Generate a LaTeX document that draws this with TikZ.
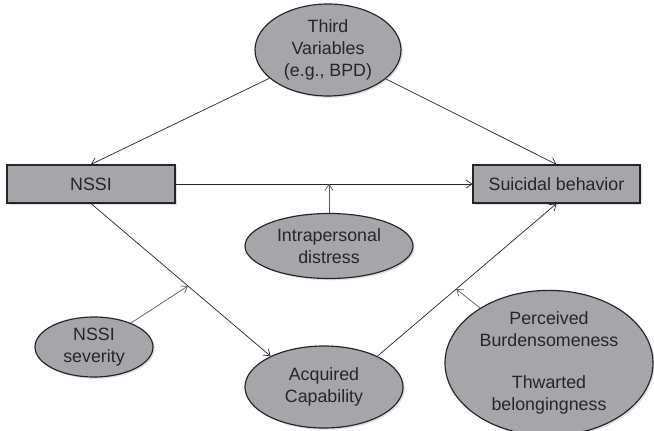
\documentclass[tikz,border=0pt]{standalone}
\usepackage{fontspec}
\setmainfont{Liberation Sans}
\usetikzlibrary{shapes,arrows.meta,positioning,shadows}

\definecolor{nodegray}{RGB}{166,166,170}
\definecolor{textgray}{RGB}{38,38,38}

\begin{document}
\begin{tikzpicture}[
    x=0.03cm,
    y=-0.03cm,
    font=\fontsize{15.2}{18.5}\selectfont,
    box/.style={
        rectangle,
        draw=black!85,
        fill=nodegray,
        line width=1pt,
        text=textgray,
        minimum height=1.14cm,
        minimum width=5.04cm,
        align=center,
        drop shadow={opacity=0.25, shadow xshift=1.5pt, shadow yshift=-1.5pt}
    },
    oval/.style={
        ellipse,
        draw=black!85,
        fill=nodegray,
        line width=1pt,
        text=textgray,
        inner sep=0pt,
        align=center,
        drop shadow={opacity=0.25, shadow xshift=1.5pt, shadow yshift=-1.5pt}
    },
    arrow/.style={
        -{Straight Barb[length=5pt,width=7pt]},
        line width=0.6pt,
        black!85
    },
    modarrow/.style={
        -{Straight Barb[length=5pt,width=7pt]},
        line width=0.6pt,
        black!65
    }
]
\useasboundingbox (0,0) rectangle (654,431);

% Third variables
\node[oval, minimum width=4.38cm, minimum height=2.76cm] (third) at (328,50) {
    Third\\
    Variables\\
    (e.g., BPD)
};

% NSSI
\node[box] (nssi) at (91,184) {NSSI};

% Suicidal behavior
\node[box, minimum width=5.01cm] (suicide) at (556.5,184) {Suicidal behavior};

% Intrapersonal distress
\node[oval, minimum width=5.04cm, minimum height=1.95cm] (distress) at (329,246) {
    Intrapersonal\\
    distress
};

% NSSI severity
\node[oval, minimum width=3.54cm, minimum height=1.8cm] (severity) at (94,347) {
    NSSI\\
    severity
};

% Acquired capability
\node[oval, minimum width=4.74cm, minimum height=2.46cm] (capability) at (324,387) {
    Acquired\\
    Capability
};

% Burdensomeness / belongingness
\node[oval, minimum width=6.24cm, minimum height=3.69cm] (burden) at (549,363) {
    Perceived\\
    Burdensomeness\\[18pt]
    Thwarted\\
    belongingness
};

% Arrows
\draw[arrow] (third) -- (nssi.north);
\draw[arrow] (third) -- (suicide.north);
\draw[arrow] (nssi.east) -- (suicide.west);
\draw[arrow] (nssi.south) -- (capability.150)
    coordinate[pos=0.54] (sevpoint);
\draw[arrow] (capability.30) -- (suicide.south)
    coordinate[pos=0.44] (burdenpoint);

% Moderators
\draw[modarrow] (distress.north) -- (distress.north |- nssi.east);
\draw[modarrow] (severity) -- (sevpoint);
\draw[modarrow] (burden) -- (burdenpoint);

\end{tikzpicture}
\end{document}
